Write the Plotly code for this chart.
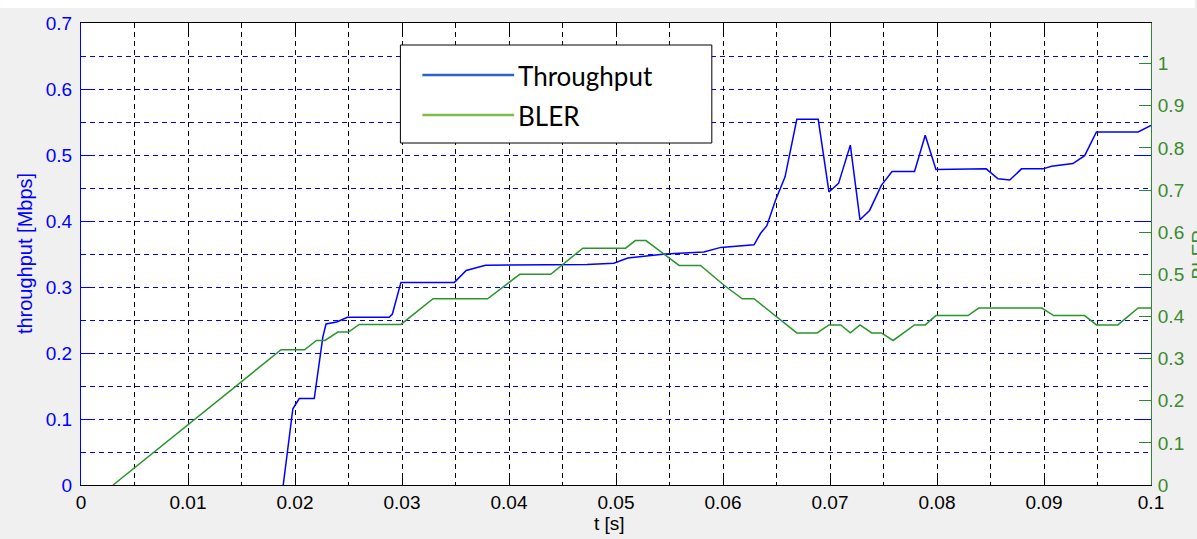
import plotly.graph_objects as go

# ---------------- data ----------------
t_thr = [0.0189, 0.0198, 0.0204, 0.0218, 0.0226, 0.0229, 0.0239, 0.0249, 0.0288, 0.0291,
         0.0299, 0.0349, 0.0360, 0.0378, 0.0473, 0.0498, 0.0511, 0.0528, 0.0546, 0.0582,
         0.0598, 0.0629, 0.0635, 0.0641, 0.0649, 0.0658, 0.0669, 0.0689, 0.0699, 0.0708,
         0.0719, 0.0728, 0.0737, 0.0748, 0.0758, 0.0779, 0.0789, 0.0799, 0.0846, 0.0857,
         0.0868, 0.0879, 0.0899, 0.0907, 0.0927, 0.0938, 0.0949, 0.0988, 0.1000]
throughput = [0.000, 0.1155, 0.131, 0.131, 0.224, 0.244, 0.247, 0.254, 0.254, 0.259,
              0.307, 0.307, 0.325, 0.333, 0.334, 0.336, 0.344, 0.347, 0.350, 0.353,
              0.360, 0.364, 0.381, 0.393, 0.431, 0.467, 0.554, 0.554, 0.444, 0.457,
              0.515, 0.402, 0.416, 0.454, 0.475, 0.475, 0.530, 0.478, 0.479, 0.464,
              0.462, 0.479, 0.479, 0.483, 0.487, 0.499, 0.535, 0.535, 0.545]

t_bler = [0.0030, 0.0187, 0.0209, 0.0220, 0.0228, 0.0240, 0.0250, 0.0260, 0.0299, 0.0329,
          0.0380, 0.0410, 0.0439, 0.0469, 0.0509, 0.0518, 0.0528, 0.0559, 0.0579, 0.0601,
          0.0618, 0.0629, 0.0669, 0.0688, 0.0699, 0.0710, 0.0719, 0.0728, 0.0739, 0.0748,
          0.0759, 0.0779, 0.0789, 0.0799, 0.0829, 0.0839, 0.0898, 0.0909, 0.0938, 0.0949,
          0.0969, 0.0988, 0.1000]
bler = [0.000, 0.321, 0.321, 0.343, 0.343, 0.363, 0.363, 0.381, 0.381, 0.442,
        0.442, 0.500, 0.500, 0.562, 0.562, 0.580, 0.580, 0.521, 0.521, 0.474,
        0.442, 0.442, 0.361, 0.361, 0.380, 0.380, 0.361, 0.380, 0.361, 0.361,
        0.343, 0.380, 0.380, 0.402, 0.402, 0.420, 0.420, 0.402, 0.402, 0.380,
        0.380, 0.420, 0.420]

legend_labels = ["Throughput", "BLER"]
x_title = "t [s]"
y_title = "throughput [Mbps]"
y2_title = "BLER"

# ---------------- layout geometry ----------------
W, H = 1197, 539
ML, MR, MT, MB = 81, 44, 23, 54
PW, PH = W - ML - MR, H - MT - MB


def px(x):
    return (x - ML) / PW


def py(y):
    return (H - MB - y) / PH


BLUE = "#0000ff"
GREEN_LINE = "#2a962a"
GREEN_AX = "#2f8a2f"
GREEN_LBL = "#3b8a2e"
FONT = "Liberation Sans, Arial, sans-serif"

fig = go.Figure()
fig.add_trace(go.Scatter(x=t_thr, y=throughput, mode="lines", name=legend_labels[0],
                         line=dict(color=BLUE, width=1.5), showlegend=False))
fig.add_trace(go.Scatter(x=t_bler, y=bler, mode="lines", name=legend_labels[1],
                         line=dict(color=GREEN_LINE, width=1.5), yaxis="y2", showlegend=False))

dash = "5px,4px"
fig.update_layout(
    width=W, height=H,
    margin=dict(l=ML, r=MR, t=MT, b=MB, pad=0),
    paper_bgcolor="#f0f0f0", plot_bgcolor="#ffffff",
    font=dict(family=FONT, size=19, color="black"),
    showlegend=False,
    xaxis=dict(range=[0, 0.1], dtick=0.01, tick0=0, showline=True, linecolor="black",
               linewidth=1, mirror="ticks", ticks="inside", ticklen=10, tickcolor="black",
               showgrid=True, gridcolor="black", griddash=dash, gridwidth=1,
               minor=dict(dtick=0.005, showgrid=True, gridcolor="black", griddash=dash,
                          gridwidth=1, ticks=""),
               zeroline=False, tickfont=dict(size=19, color="black"), ticklabelstandoff=0),
    yaxis=dict(range=[0, 0.7], dtick=0.1, tick0=0, showline=True, linecolor=BLUE,
               linewidth=1, mirror="ticks", ticks="inside", ticklen=12, tickcolor=BLUE,
               showgrid=True, gridcolor=BLUE, griddash=dash, gridwidth=1,
               minor=dict(dtick=0.05, showgrid=True, gridcolor=BLUE, griddash=dash,
                          gridwidth=1, ticks=""),
               zeroline=False, tickfont=dict(size=19, color=BLUE), ticklabelstandoff=4),
    yaxis2=dict(range=[0, 1.0964], dtick=0.1, tick0=0, overlaying="y", side="right",
                showline=True, linecolor=GREEN_AX, linewidth=1, ticks="inside", ticklen=12,
                tickcolor=GREEN_AX, showgrid=False, zeroline=False,
                tickfont=dict(size=19, color=GREEN_LBL), ticklabelstandoff=2),
)

annotations = [
    dict(text=y_title, x=px(25), y=0.5, xref="paper", yref="paper", textangle=-90,
         showarrow=False, xanchor="center", yanchor="middle",
         font=dict(family=FONT, size=20, color=BLUE)),
    dict(text=x_title, x=px(610), y=py(523), xref="paper", yref="paper",
         showarrow=False, xanchor="center", yanchor="middle",
         font=dict(family=FONT, size=19, color="black")),
    dict(text=y2_title, x=px(1188), y=0.5, xref="paper", yref="paper", textangle=-90,
         showarrow=False, xanchor="left", yanchor="middle",
         font=dict(family=FONT, size=19, color=GREEN_LBL)),
    dict(text=legend_labels[0], x=px(517), y=py(76), xref="paper", yref="paper",
         showarrow=False, xanchor="left", yanchor="middle",
         font=dict(family="Lato, Carlito, sans-serif", size=26, color="black")),
    dict(text=legend_labels[1], x=px(517), y=py(116), xref="paper", yref="paper",
         showarrow=False, xanchor="left", yanchor="middle",
         font=dict(family="Lato, Carlito, sans-serif", size=26, color="black")),
]

shapes = [
    # white strip at the very top of the picture
    dict(type="rect", xref="paper", yref="paper", x0=px(0), x1=px(W), y0=py(8), y1=py(0),
         fillcolor="white", line=dict(width=0), layer="below"),
    # legend box
    dict(type="rect", xref="paper", yref="paper", x0=px(401), x1=px(713), y0=py(143),
         y1=py(45), fillcolor="white", line=dict(color="black", width=1), layer="above"),
    dict(type="line", xref="paper", yref="paper", x0=px(423), x1=px(515), y0=py(75),
         y1=py(75), line=dict(color="#2962c9", width=2.5), layer="above"),
    dict(type="line", xref="paper", yref="paper", x0=px(423), x1=px(515), y0=py(115),
         y1=py(115), line=dict(color="#7dbf4a", width=2.5), layer="above"),
]

fig.update_layout(annotations=annotations, shapes=shapes)
fig.write_html("out.html")
